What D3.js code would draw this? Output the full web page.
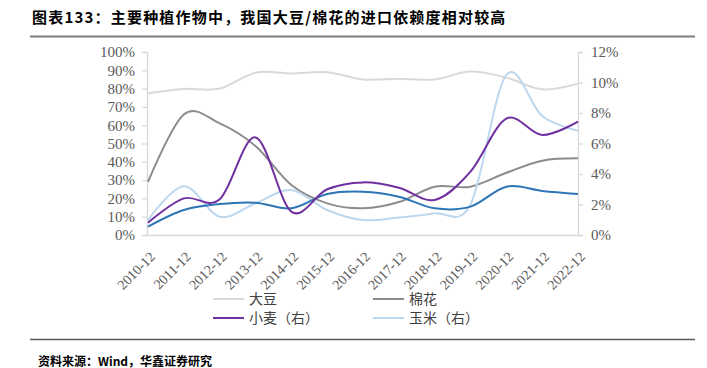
<!DOCTYPE html>
<html><head><meta charset="utf-8">
<script src="https://cdn.jsdelivr.net/npm/d3@7"></script>
<style>body{margin:0;background:#fff;}svg{display:block;}</style>
</head><body>
<svg id="c" width="707" height="368"></svg>
<script>
const categories = ["2010-12","2011-12","2012-12","2013-12","2014-12","2015-12","2016-12","2017-12","2018-12","2019-12","2020-12","2021-12","2022-12"];
const soybean = [77.4,79.8,80.0,88.7,88.3,89.0,85.0,85.4,85.0,89.3,86.0,79.6,82.7];   // 大豆, left, %
const cotton  = [29.0,65.8,61.0,48.6,27.3,17.3,14.6,18.0,26.4,26.4,34.0,40.6,41.9];   // 棉花, left, %
const wheat   = [0.81,2.40,2.34,6.40,1.53,3.00,3.45,3.10,2.30,4.15,7.63,6.56,7.43];   // 小麦（右）
const corn    = [0.98,3.20,1.20,2.08,2.95,1.64,0.98,1.15,1.42,2.00,10.5,7.80,6.84];   // 玉米（右）
const rice    = [0.55,1.64,2.03,2.12,1.75,2.69,2.84,2.51,1.75,1.86,3.17,2.89,2.69];   // 第五条线（右，图例未显示）
const leftTicks = [0,10,20,30,40,50,60,70,80,90,100];
const rightTicks = [0,2,4,6,8,10,12];
const legendItems = [
  {name:"大豆", color:"#d9d9d9"},
  {name:"棉花", color:"#8c8c8c"},
  {name:"小麦（右）", color:"#7030a0"},
  {name:"玉米（右）", color:"#bdd7ee"}
];

const svg = d3.select("#c");
const x = d3.scalePoint().domain(categories).range([148, 578]);
const yL = d3.scaleLinear().domain([0,100]).range([235, 52]);
const yR = d3.scaleLinear().domain([0,12]).range([235, 52]);
const serif = "'Liberation Serif','Times New Roman',serif";
const cjk = "'Noto Sans CJK SC',sans-serif";

// title
svg.append("text").attr("x",32).attr("y",23).attr("font-family",cjk).attr("font-weight","bold")
  .attr("font-size",15).attr("letter-spacing",1.2).attr("fill","#000").text("图表133：主要种植作物中，我国大豆/棉花的进口依赖度相对较高");
svg.append("line").attr("x1",30).attr("x2",695).attr("y1",36.5).attr("y2",36.5).attr("stroke","#7f7f7f").attr("stroke-width",2);

// left axis
const gL = svg.append("g").attr("transform","translate(147,0)")
  .call(d3.axisLeft(yL).tickValues(leftTicks).tickSize(5).tickFormat(d=>d+"%"));
// right axis
const gR = svg.append("g").attr("transform","translate(578,0)")
  .call(d3.axisRight(yR).tickValues(rightTicks).tickSize(5).tickFormat(d=>d+"%"));
[gL,gR].forEach(g=>{
  g.select(".domain").attr("stroke","#d9d9d9").attr("stroke-width",1.3);
  g.selectAll(".tick line").attr("stroke","#d9d9d9").attr("stroke-width",1.3);
  g.selectAll(".tick text").attr("font-family",serif).attr("font-size",15).attr("fill","#595959");
});
gL.selectAll(".tick text").attr("x",-12);
gR.selectAll(".tick text").attr("x",13);

// bottom axis
const gB = svg.append("g").attr("transform","translate(0,235)")
  .call(d3.axisBottom(x).tickSize(0).tickFormat(d=>d));
gB.select(".domain").attr("stroke","#d9d9d9").attr("stroke-width",1.3);
gB.selectAll(".tick text").attr("font-family",serif).attr("font-size",14).attr("fill","#595959")
  .attr("text-anchor","end").attr("transform","translate(4,19) rotate(-45)").attr("dy","0.35em").attr("y",0);

// lines
const curve = d3.curveCardinal.tension(0);
function draw(vals, scale, color, w){
  const line = d3.line().x((d,i)=>x(categories[i])).y(d=>scale(d)).curve(curve);
  svg.append("path").datum(vals).attr("d",line).attr("fill","none").attr("stroke",color).attr("stroke-width",w);
}
draw(soybean, yL, "#d9d9d9", 2);
draw(cotton, yL, "#8c8c8c", 2);
draw(corn, yR, "#bdd7ee", 2);
draw(rice, yR, "#2e75b6", 2);
draw(wheat, yR, "#7030a0", 2);

// legend
const lg = svg.append("g");
legendItems.forEach((d,i)=>{
  const col = i%2, row = Math.floor(i/2);
  const lx = col===0 ? 213 : 373, ly = row===0 ? 299 : 318;
  lg.append("line").attr("x1",lx).attr("x2",lx+31).attr("y1",ly).attr("y2",ly).attr("stroke",d.color).attr("stroke-width",2);
  lg.append("text").attr("x",lx+36).attr("y",ly+5).attr("font-family",cjk).attr("font-size",14).attr("fill","#404040").text(d.name);
});

// bottom rule and source
svg.append("line").attr("x1",30).attr("x2",695).attr("y1",339.5).attr("y2",339.5).attr("stroke","#595959").attr("stroke-width",1.5);
svg.append("text").attr("x",38).attr("y",366).attr("font-family",cjk).attr("font-size",12).attr("font-weight","bold").attr("fill","#000").text("资料来源：Wind，华鑫证券研究");
</script>
</body></html>
